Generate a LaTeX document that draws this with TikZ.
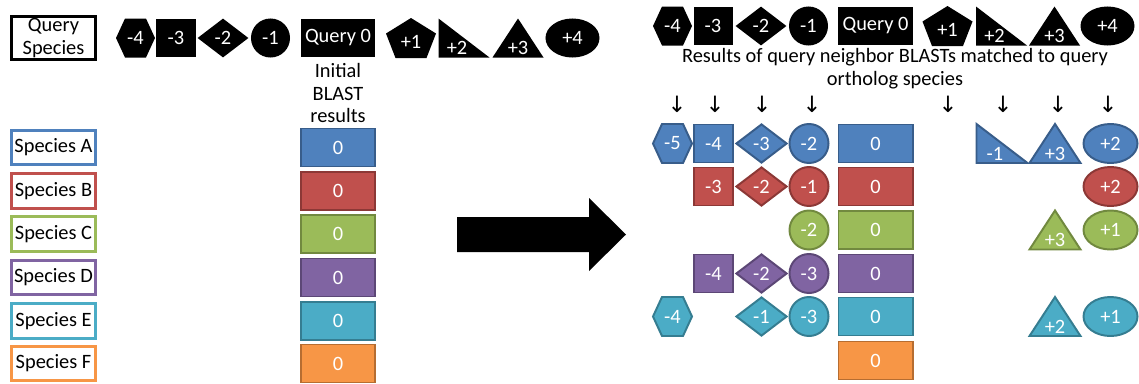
\documentclass[tikz,border=0pt]{standalone}
\usepackage{fontspec}
\setmainfont{Carlito}
\newfontfamily\arrowfont{DejaVu Sans}
\usetikzlibrary{shapes.geometric}
\definecolor{spblue}{HTML}{4F81BD}
\definecolor{spblueD}{HTML}{385D8A}
\definecolor{spred}{HTML}{C0504D}
\definecolor{spredD}{HTML}{8C3836}
\definecolor{spgreen}{HTML}{9BBB59}
\definecolor{spgreenD}{HTML}{71893F}
\definecolor{sppurple}{HTML}{8064A2}
\definecolor{sppurpleD}{HTML}{5C4776}
\definecolor{spteal}{HTML}{4BACC6}
\definecolor{sptealD}{HTML}{357D91}
\definecolor{sporange}{HTML}{F79646}
\definecolor{sporangeD}{HTML}{B66D31}
\tikzset{
  qblk/.style    ={fill=black, text=white},
  cblue/.style   ={fill=spblue, draw=spblueD, line width=1.4pt, text=white},
  cred/.style    ={fill=spred, draw=spredD, line width=1.4pt, text=white},
  cgreen/.style  ={fill=spgreen, draw=spgreenD, line width=1.4pt, text=white},
  cpurple/.style ={fill=sppurple, draw=sppurpleD, line width=1.4pt, text=white},
  cteal/.style   ={fill=spteal, draw=sptealD, line width=1.4pt, text=white},
  corange/.style ={fill=sporange, draw=sporangeD, line width=1.4pt, text=white},
  numtxt/.style  ={text=white, inner sep=0pt},
  sqsh/.style    ={rectangle, minimum width=0.975cm, minimum height=0.95cm, inner sep=0pt},
  dmsh/.style    ={diamond, minimum width=1.275cm, minimum height=0.975cm, inner sep=0pt},
  crsh/.style    ={circle, minimum size=0.975cm, inner sep=0pt},
  elsh/.style    ={ellipse, minimum width=1.35cm, minimum height=0.975cm, inner sep=0pt},
  wrsh/.style    ={rectangle, minimum width=1.85cm, minimum height=0.95cm, inner sep=0pt},
  spbox/.style   ={rectangle, fill=white, text=black, line width=2pt,
                   minimum width=2.1cm, minimum height=0.86cm, inner sep=0pt},
  dnarr/.style   ={font=\arrowfont\fontsize{16}{17}\selectfont, inner sep=0pt},
}
% shapes that have no ready node shape: name, x, y, style, text
\newcommand{\hexsh}[5]{%
  \path[#4, shift={(#2,#3)}] (-19.5,0) -- (-10.5,-19.5) -- (10.5,-19.5) -- (19.5,0)
    -- (10.5,19.5) -- (-10.5,19.5) -- cycle;
  \node[numtxt] (#1) at (#2,#3) {#5};}
\newcommand{\pentsh}[5]{%
  \path[#4, shift={(#2,#3)}] (0,-20) -- (25,-4.5) -- (15.5,20) -- (-15.5,20)
    -- (-25,-4.5) -- cycle;
  \node[numtxt] (#1) at ({#2},{#3+4}) {#5};}
\newcommand{\rtrish}[5]{%
  \path[#4, shift={(#2,#3)}] (-25.5,-19.5) -- (25.5,19.5) -- (-25.5,19.5) -- cycle;
  \node[numtxt] (#1) at ({#2-7},{#3+10}) {#5};}
\newcommand{\trish}[5]{%
  \path[#4, shift={(#2,#3)}] (0,-19.5) -- (25.5,19.5) -- (-25.5,19.5) -- cycle;
  \node[numtxt] (#1) at ({#2},{#3+10}) {#5};}

\begin{document}
\begin{tikzpicture}[x=0.025cm, y=-0.025cm, font=\fontsize{14.5}{16.3}\selectfont]
  \useasboundingbox (0,0) rectangle (1139,383);
  % left half: query and species
  \node[spbox, draw=black, line width=2.2pt, minimum height=1.075cm, align=center]
    (qspec) at (53.5,38) {Query\\Species};
  \hexsh{tl-m4}{135.5}{38}{qblk}{-4}
  \node[sqsh, qblk] (tl-m3) at (176,38) {-3};
  \node[dmsh, qblk] (tl-m2) at (223,38) {-2};
  \node[crsh, qblk] (tl-m1) at (270.5,38) {-1};
  \node[wrsh, qblk] (tl-q0) at (338,38) {Query 0};
  \pentsh{tl-p1}{411}{38}{qblk}{+1}
  \rtrish{tl-p2}{464}{38}{qblk}{+2}
  \trish{tl-p3}{518}{38}{qblk}{+3}
  \node[elsh, qblk] (tl-p4) at (572.5,38) {+4};
  \node[align=center, inner sep=0pt] (initlab) at (338,93) {Initial\\BLAST\\results};

  \node[spbox, draw=spblue] (spA) at (53.5,147.5) {Species A};
  \node[spbox, draw=spred] (spB) at (53.5,191) {Species B};
  \node[spbox, draw=spgreen] (spC) at (53.5,234) {Species C};
  \node[spbox, draw=sppurple] (spD) at (53.5,277.5) {Species D};
  \node[spbox, draw=spteal] (spE) at (53.5,321) {Species E};
  \node[spbox, draw=sporange] (spF) at (53.5,363.5) {Species F};

  \node[wrsh, cblue] (ibA) at (338,147.5) {0};
  \node[wrsh, cred] (ibB) at (338,191) {0};
  \node[wrsh, cgreen] (ibC) at (338,234) {0};
  \node[wrsh, cpurple] (ibD) at (338,277.5) {0};
  \node[wrsh, cteal] (ibE) at (338,321) {0};
  \node[wrsh, corange] (ibF) at (338,363.5) {0};

  % big arrow
  \fill (457,217) -- (589,217) -- (589,198) -- (626,234.5) -- (589,271) -- (589,252)
    -- (457,252) -- cycle;

  % right half: neighbor results
  \hexsh{tr-m4}{672.5}{26}{qblk}{-4}
  \node[sqsh, qblk] (tr-m3) at (713,26) {-3};
  \node[dmsh, qblk] (tr-m2) at (761,26) {-2};
  \node[crsh, qblk] (tr-m1) at (808.5,26) {-1};
  \node[wrsh, qblk] (tr-q0) at (875.5,26) {Query 0};
  \pentsh{tr-p1}{947.5}{26}{qblk}{+1}
  \rtrish{tr-p2}{1001.5}{26}{qblk}{+2}
  \trish{tr-p3}{1054.5}{26}{qblk}{+3}
  \node[elsh, qblk] (tr-p4) at (1107.5,26) {+4};
  \node[align=center, inner sep=0pt] (reslab) at (895,68.5)
    {Results of query neighbor BLASTs matched to query\\ortholog species};

  \node[dnarr] (dn1) at (677,104) {↓};
  \node[dnarr] (dn2) at (715,104) {↓};
  \node[dnarr] (dn3) at (762,104) {↓};
  \node[dnarr] (dn4) at (812,104) {↓};
  \node[dnarr] (dn5) at (948,104) {↓};
  \node[dnarr] (dn6) at (1003,104) {↓};
  \node[dnarr] (dn7) at (1058,104) {↓};
  \node[dnarr] (dn8) at (1108,104) {↓};

  % row A
  \hexsh{rA-m5}{672.5}{143.5}{cblue}{-5}
  \node[sqsh, cblue] (rA-m4) at (713.5,143.5) {-4};
  \node[dmsh, cblue] (rA-m3) at (761.5,143.5) {-3};
  \node[crsh, cblue] (rA-m2) at (809,143.5) {-2};
  \node[wrsh, cblue] (rA-0) at (875.5,143.5) {0};
  \rtrish{rA-m1}{1002}{143.5}{cblue}{-1}
  \trish{rA-p3}{1055}{143.5}{cblue}{+3}
  \node[elsh, cblue] (rA-p2) at (1110.5,143.5) {+2};
  % row B
  \node[sqsh, cred] (rB-m3) at (713.5,186.5) {-3};
  \node[dmsh, cred] (rB-m2) at (761.5,186.5) {-2};
  \node[crsh, cred] (rB-m1) at (809,186.5) {-1};
  \node[wrsh, cred] (rB-0) at (875.5,186.5) {0};
  \node[elsh, cred] (rB-p2) at (1110.5,186.5) {+2};
  % row C
  \node[crsh, cgreen] (rC-m2) at (809,230) {-2};
  \node[wrsh, cgreen] (rC-0) at (875.5,230) {0};
  \trish{rC-p3}{1055}{230}{cgreen}{+3}
  \node[elsh, cgreen] (rC-p1) at (1110.5,230) {+1};
  % row D
  \node[sqsh, cpurple] (rD-m4) at (713.5,273.5) {-4};
  \node[dmsh, cpurple] (rD-m2) at (761.5,273.5) {-2};
  \node[crsh, cpurple] (rD-m3) at (809,273.5) {-3};
  \node[wrsh, cpurple] (rD-0) at (875.5,273.5) {0};
  % row E
  \hexsh{rE-m4}{672.5}{316.5}{cteal}{-4}
  \node[dmsh, cteal] (rE-m1) at (761.5,316.5) {-1};
  \node[crsh, cteal] (rE-m3) at (809,316.5) {-3};
  \node[wrsh, cteal] (rE-0) at (875.5,316.5) {0};
  \trish{rE-p2}{1055}{316.5}{cteal}{+2}
  \node[elsh, cteal] (rE-p1) at (1110.5,316.5) {+1};
  % row F
  \node[wrsh, corange] (rF-0) at (875.5,360.5) {0};
\end{tikzpicture}
\end{document}
